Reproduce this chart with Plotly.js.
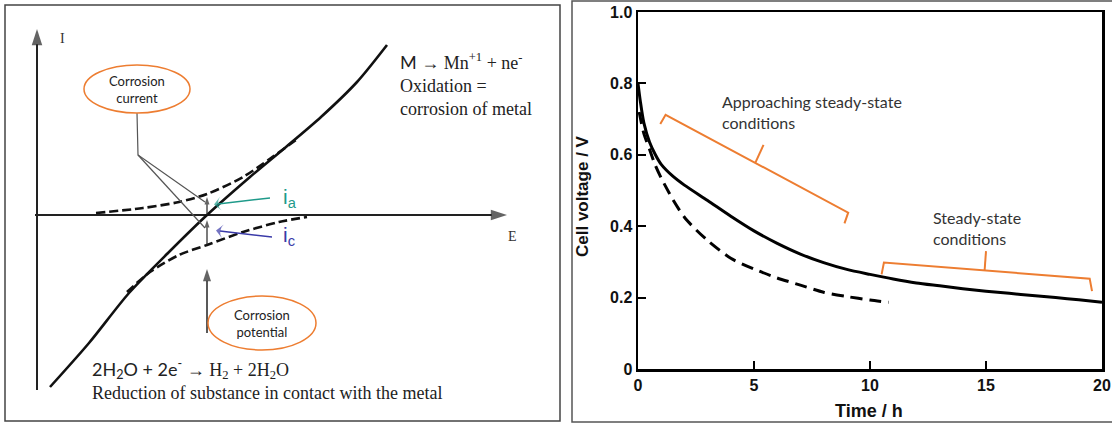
<!DOCTYPE html>
<html>
<head>
<meta charset="utf-8">
<script src="https://cdn.plot.ly/plotly-3.0.1.min.js"></script>
<style>
  html, body { margin: 0; padding: 0; background: #fff; }
  #chart { width: 1112px; height: 423px; }
</style>
</head>
<body>
<div id="chart"></div>
<script>
// ---------- Evans diagram (left panel), schematic units: E to the right, I upward ----------
const netCurveE = [13, 52, 92, 131, 170, 213, 249, 284, 320, 350];
const netCurveI = [-172, -128, -78, -38, 0, 38, 68, 98, 133, 170];
const anodicE = [59, 106, 142, 170, 206, 234, 259];
const anodicI = [2, 7, 13, 21, 38, 57, 75];
const cathodicE = [90, 113, 142, 170, 206, 242, 270];
const cathodicI = [-77, -57, -40, -30, -17, -7, -2];
const corrosionE = 170;          // corrosion potential on the E axis
const corrosionIa = 21;          // anodic partial current at that potential
const corrosionIc = -30;         // cathodic partial current at that potential
const calloutE = [100, 101, 168, null, 101, 168];
const calloutI = [102, 60, 13, null, 60, -13];

// ---------- Cell voltage vs time (right panel) ----------
const timeSolid = [0, 0.1, 0.25, 0.5, 0.75, 1, 1.5, 2, 3, 4, 5, 6, 7, 8, 9, 10, 11, 12, 13, 14, 15, 16, 17, 18, 19, 20];
const voltSolid = [0.80, 0.75, 0.69, 0.635, 0.60, 0.573, 0.540, 0.515, 0.472, 0.428, 0.387, 0.352, 0.322, 0.298, 0.279, 0.265, 0.252, 0.241, 0.233, 0.225, 0.218, 0.212, 0.206, 0.200, 0.194, 0.187];
const timeDashed = [0.05, 0.25, 0.5, 0.75, 1, 1.5, 2, 2.5, 3, 4, 5, 6, 7, 8, 9, 10, 10.8];
const voltDashed = [0.72, 0.66, 0.615, 0.57, 0.535, 0.475, 0.425, 0.39, 0.36, 0.31, 0.28, 0.255, 0.235, 0.215, 0.203, 0.193, 0.187];
const xTickVals = [0, 5, 10, 15, 20];
const xTickText = ['0', '5', '10', '15', '20'];
const yTickVals = [0, 0.2, 0.4, 0.6, 0.8, 1.0];
const yTickText = ['0', '0.2', '0.4', '0.6', '0.8', '1.0'];

// orange brackets marking the two regimes
const approachBracketT = [0.96, 1.19, 9.06, 8.9];
const approachBracketV = [0.686, 0.712, 0.438, 0.408];
const approachTickT = [5.06, 5.41];
const approachTickV = [0.578, 0.628];
const steadyBracketT = [10.5, 10.6, 19.47, 19.57];
const steadyBracketV = [0.265, 0.298, 0.253, 0.218];
const steadyTickT = [14.94, 15.0];
const steadyTickV = [0.276, 0.33];

const W = 1112, H = 423;
const px = (x) => x / W;
const py = (y) => 1 - y / H;

const ORANGE = '#ed7d31';
const TEAL = '#1f9a8a';
const BLUE = '#3a3aa8';
const SERIF = 'Liberation Serif, Times New Roman, serif';
const SANS = 'Lato, Open Sans, sans-serif';
const BOLD = 'Liberation Sans, Arial, sans-serif';

function line(xs, ys, xa, ya, style) {
  return { x: xs, y: ys, xaxis: xa, yaxis: ya, mode: 'lines', line: style, hoverinfo: 'skip' };
}

// straight arrow from tail to head, the head drawn as an oriented marker
function arrowTrace(tail, head, color, width, headSize, symbol) {
  return {
    x: [tail[0], head[0]], y: [tail[1], head[1]], xaxis: 'x', yaxis: 'y',
    mode: 'lines+markers', hoverinfo: 'skip',
    line: { color: color, width: width },
    marker: { symbol: symbol || 'arrow', angleref: 'previous', size: [0, headSize],
              color: color, line: { width: 0 } }
  };
}

const traces = [
  // Evans diagram axes
  arrowTrace([0, -175], [0, 186], '#222', 2, 17),
  arrowTrace([-2, 0], [470, 0], '#222', 2, 17),

  // polarisation curves
  line(netCurveE, netCurveI, 'x', 'y', { color: '#111', width: 2.6, shape: 'spline', smoothing: 0.8 }),
  line(anodicE, anodicI, 'x', 'y', { color: '#111', width: 2.6, dash: '9px,4px', shape: 'spline', smoothing: 0.8 }),
  line(cathodicE, cathodicI, 'x', 'y', { color: '#111', width: 2.6, dash: '9px,4px', shape: 'spline', smoothing: 0.8 }),
  line(calloutE, calloutI, 'x', 'y', { color: '#555', width: 1.2 }),

  // partial currents at the corrosion potential
  arrowTrace([corrosionE, 0], [corrosionE, corrosionIa - 3], '#222', 1.2, 8),
  arrowTrace([corrosionE, corrosionIc], [corrosionE, -5], '#222', 1.2, 8),
  arrowTrace([233, 17], [177, 10.6], TEAL, 1.5, 10, 'arrow-wide'),
  arrowTrace([235, -22], [179, -15.6], BLUE, 1.5, 10, 'arrow-wide'),
  // corrosion potential pointer
  arrowTrace([corrosionE, -118], [corrosionE, -54], '#222', 1.5, 13),

  // cell voltage curves
  line(timeSolid, voltSolid, 'x2', 'y2', { color: '#000', width: 3, shape: 'spline', smoothing: 0.7 }),
  line(timeDashed, voltDashed, 'x2', 'y2', { color: '#000', width: 3, dash: '12px,7px', shape: 'spline', smoothing: 0.7 }),

  // brackets
  line(approachBracketT, approachBracketV, 'x2', 'y2', { color: ORANGE, width: 2 }),
  line(approachTickT, approachTickV, 'x2', 'y2', { color: ORANGE, width: 2 }),
  line(steadyBracketT, steadyBracketV, 'x2', 'y2', { color: ORANGE, width: 2 }),
  line(steadyTickT, steadyTickV, 'x2', 'y2', { color: ORANGE, width: 2 })
];

const annotations = [
  { xref: 'x', yref: 'y', x: 25, y: 177, text: 'I', showarrow: false,
    font: { family: SERIF, size: 14, color: '#333' } },
  { xref: 'x', yref: 'y', x: 475, y: -21, text: 'E', showarrow: false,
    font: { family: SERIF, size: 14, color: '#333' } },

  { xref: 'paper', yref: 'paper', x: px(281), y: py(198), xanchor: 'left', yanchor: 'middle',
    text: 'i<sub>a</sub>', showarrow: false, font: { family: BOLD, size: 21, color: TEAL } },
  { xref: 'paper', yref: 'paper', x: px(281), y: py(236), xanchor: 'left', yanchor: 'middle',
    text: 'i<sub>c</sub>', showarrow: false, font: { family: BOLD, size: 21, color: BLUE } },

  // callout labels
  { xref: 'x', yref: 'y', x: 100, y: 126, text: 'Corrosion<br>current', showarrow: false,
    font: { family: SANS, size: 13, color: '#222' } },
  { xref: 'x', yref: 'y', x: 225, y: -108, text: 'Corrosion<br>potential', showarrow: false,
    font: { family: SANS, size: 13, color: '#222' } },

  // half reactions
  { xref: 'paper', yref: 'paper', x: px(398), y: py(84), xanchor: 'left', yanchor: 'middle', align: 'left',
    text: '<span style="font-family:Lato">M</span> → Mn<sup>+1</sup> + ne<sup>-</sup><br>Oxidation =<br>corrosion of metal',
    showarrow: false, font: { family: SERIF, size: 18, color: '#222' } },
  { xref: 'paper', yref: 'paper', x: px(90), y: py(379), xanchor: 'left', yanchor: 'middle', align: 'left',
    text: '<span style="font-family:Lato">2H<sub>2</sub>O + 2e<sup>-</sup></span> → H<sub>2</sub> + 2H<sub>2</sub>O<br>Reduction of substance in contact with the metal',
    showarrow: false, font: { family: SERIF, size: 18, color: '#222' } },

  // right panel labels
  { xref: 'x2', yref: 'y2', x: 3.53, y: 0.72, xanchor: 'left', yanchor: 'middle', align: 'left',
    text: 'Approaching steady-state<br>conditions', showarrow: false,
    font: { family: SANS, size: 16, color: '#333' } },
  { xref: 'x2', yref: 'y2', x: 12.63, y: 0.395, xanchor: 'left', yanchor: 'middle', align: 'left',
    text: 'Steady-state<br>conditions', showarrow: false,
    font: { family: SANS, size: 16, color: '#333' } },
  { xref: 'paper', yref: 'paper', x: px(582), y: py(196), xanchor: 'center', yanchor: 'middle',
    textangle: -90, text: 'Cell voltage / V', showarrow: false,
    font: { family: BOLD, size: 17, color: '#111', weight: 'bold' } },
  { xref: 'paper', yref: 'paper', x: px(869), y: py(411), xanchor: 'center', yanchor: 'middle',
    text: 'Time / h', showarrow: false,
    font: { family: BOLD, size: 18, color: '#111', weight: 'bold' } }
];

const shapes = [
  // panel frames
  { type: 'rect', xref: 'paper', yref: 'paper', x0: px(5), x1: px(560), y0: py(421), y1: py(5),
    line: { color: '#444', width: 1.5 }, layer: 'below' },
  { type: 'rect', xref: 'paper', yref: 'paper', x0: px(572), x1: px(1116), y0: py(422), y1: py(1),
    line: { color: '#555', width: 1.5 }, layer: 'below' },
  // callout ellipses
  { type: 'circle', xref: 'x', yref: 'y', x0: 47, x1: 153, y0: 102, y1: 150,
    line: { color: ORANGE, width: 1.5 }, fillcolor: '#fff', layer: 'above' },
  { type: 'circle', xref: 'x', yref: 'y', x0: 171, x1: 279, y0: -135, y1: -81,
    line: { color: ORANGE, width: 1.5 }, fillcolor: '#fff', layer: 'above' }
];

const tickFont = { family: BOLD, size: 16, color: '#111', weight: 'bold' };

const layout = {
  width: W, height: H,
  margin: { l: 0, r: 0, t: 0, b: 0, pad: 0 },
  paper_bgcolor: '#fff', plot_bgcolor: 'rgba(0,0,0,0)',
  showlegend: false,
  xaxis: { domain: [0, px(560)], range: [-37, 523], visible: false, fixedrange: true },
  yaxis: { domain: [0, 1], range: [-208, 215], visible: false, fixedrange: true },
  xaxis2: {
    domain: [px(638), px(1102)], range: [0, 20], anchor: 'y2',
    showline: true, mirror: true, linecolor: '#000', linewidth: 2.5,
    ticks: 'inside', ticklen: 8, tickwidth: 2, tickcolor: '#000',
    tickvals: xTickVals, ticktext: xTickText, tickfont: tickFont,
    showgrid: false, zeroline: false, fixedrange: true
  },
  yaxis2: {
    domain: [1 - 369 / H, 1 - 12 / H], range: [0, 1], anchor: 'x2',
    showline: true, mirror: true, linecolor: '#000', linewidth: 2.5,
    ticks: 'inside', ticklen: 8, tickwidth: 2, tickcolor: '#000',
    tickvals: yTickVals, ticktext: yTickText, tickfont: tickFont,
    showgrid: false, zeroline: false, fixedrange: true
  },
  annotations: annotations,
  shapes: shapes
};

Plotly.newPlot('chart', traces, layout, { staticPlot: true, displayModeBar: false });
</script>
</body>
</html>
